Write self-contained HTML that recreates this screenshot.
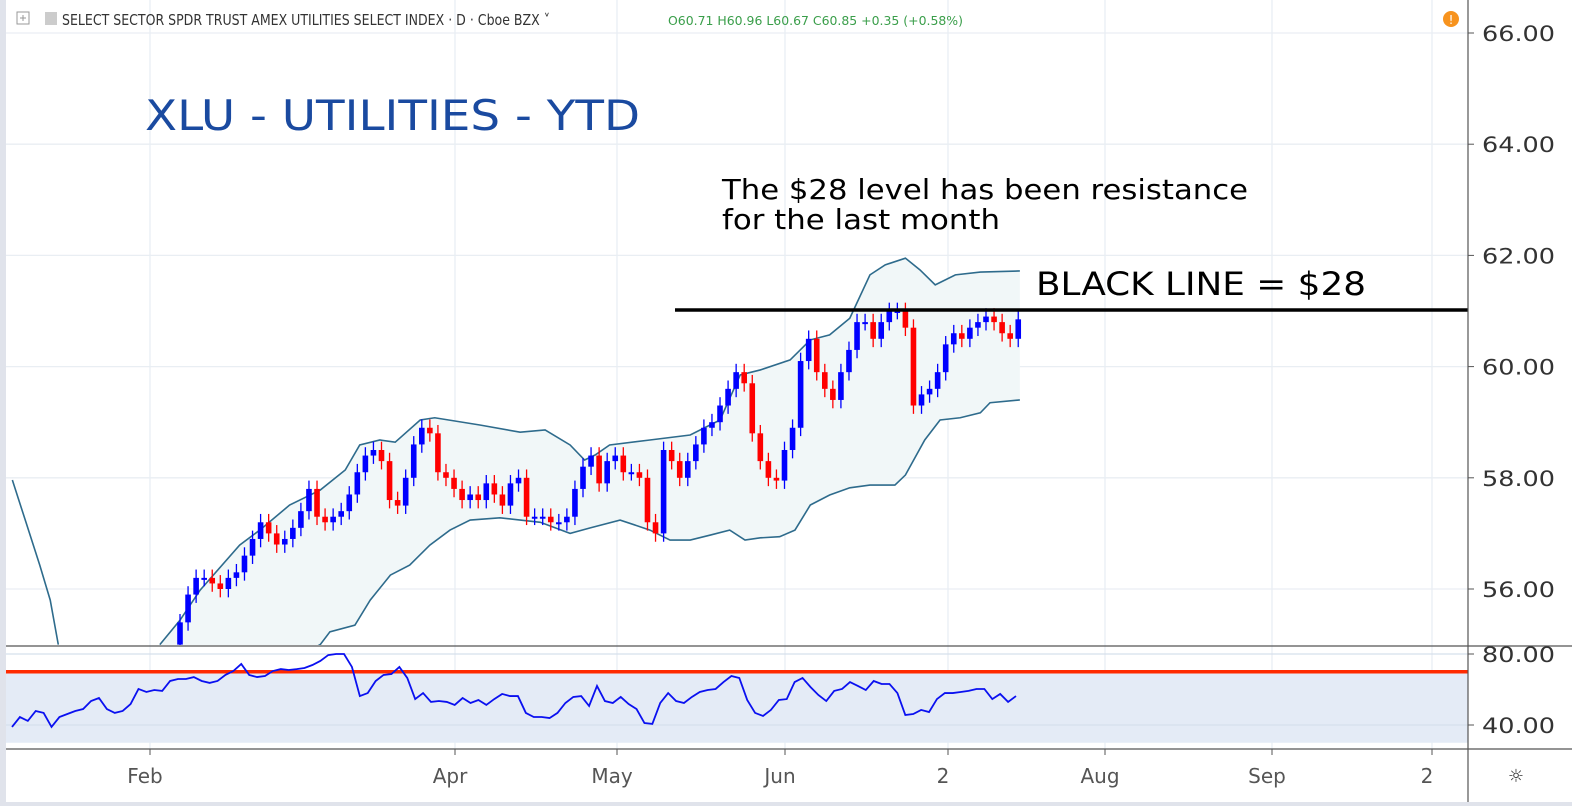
<!DOCTYPE html>
<html><head><meta charset="utf-8"><style>
html,body{margin:0;padding:0;background:#fff;}
body{width:1572px;height:806px;overflow:hidden;font-family:"Liberation Sans",sans-serif;}
svg text{font-family:"DejaVu Sans","Liberation Sans",sans-serif;}
</style></head><body>
<svg id="c" width="1572" height="806" viewBox="0 0 1572 806">
<rect x="0" y="0" width="1572" height="806" fill="#fff"/>
<rect x="0" y="0" width="6" height="806" fill="#e0e3eb"/>
<rect x="0" y="802" width="1572" height="4" fill="#e0e3eb"/>
<g id="grid"></g>
<g id="bands"></g>
<g id="candles"></g>
<line x1="675" y1="310" x2="1468" y2="310" stroke="#000" stroke-width="3.5"/>
<g id="rsi"></g>
<line x1="6" y1="646" x2="1572" y2="646" stroke="#555" stroke-width="1.2"/>
<line x1="6" y1="749" x2="1572" y2="749" stroke="#555" stroke-width="1.2"/>
<line x1="1468" y1="0" x2="1468" y2="802" stroke="#555" stroke-width="1.2"/>
<g id="axes"></g>
<text x="145" y="130" font-size="42" fill="#1a4aa0" textLength="495" lengthAdjust="spacingAndGlyphs">XLU - UTILITIES - YTD</text>
<text x="722" y="199" font-size="28" fill="#000" textLength="526" lengthAdjust="spacingAndGlyphs">The $28 level has been resistance</text>
<text x="722" y="229" font-size="28" fill="#000" textLength="278" lengthAdjust="spacingAndGlyphs">for the last month</text>
<text x="1036" y="295" font-size="32" fill="#000" textLength="330" lengthAdjust="spacingAndGlyphs">BLACK LINE = $28</text>
<g>
<rect x="17" y="12" width="12" height="12" fill="none" stroke="#999"/>
<line x1="20" y1="18" x2="26" y2="18" stroke="#999"/><line x1="23" y1="15" x2="23" y2="21" stroke="#999"/>
<rect x="45" y="12" width="12" height="13" fill="#ccc"/>
<text x="62" y="25" font-size="15" fill="#333" textLength="488" lengthAdjust="spacingAndGlyphs">SELECT SECTOR SPDR TRUST AMEX UTILITIES SELECT INDEX · D · Cboe BZX ˅</text>
<text x="668" y="25" font-size="12" fill="#3a9e4a" textLength="295" lengthAdjust="spacingAndGlyphs">O60.71  H60.96  L60.67  C60.85  +0.35 (+0.58%)</text>
<circle cx="1451" cy="19" r="8" fill="#f7931e"/>
<text x="1451" y="24" font-size="12" fill="#fff" text-anchor="middle">!</text>
</g>
<text x="1516" y="782" font-size="18" fill="#333" text-anchor="middle">☼</text>
</svg>
<script>
const closes=[55.4,55.9,56.2,56.2,56.1,56.0,56.2,56.3,56.6,56.9,57.2,57.0,56.8,56.9,57.1,57.4,57.8,57.3,57.2,57.3,57.4,57.7,58.1,58.4,58.5,58.3,57.6,57.5,58.0,58.6,58.9,58.8,58.1,58.0,57.8,57.6,57.7,57.6,57.9,57.7,57.5,57.9,58.0,57.3,57.3,57.3,57.2,57.2,57.3,57.8,58.2,58.4,57.9,58.3,58.4,58.1,58.1,58.0,57.2,57.0,58.5,58.3,58.0,58.3,58.6,58.9,59.0,59.3,59.6,59.9,59.7,58.8,58.3,58.0,57.95,58.5,58.9,60.1,60.5,59.9,59.6,59.4,59.9,60.3,60.8,60.8,60.5,60.8,61.0,61.0,60.7,59.3,59.5,59.6,59.9,60.4,60.6,60.5,60.7,60.8,60.9,60.8,60.6,60.5,60.85];
const opens=[55.0,55.4,55.9,56.2,56.2,56.1,56.0,56.2,56.3,56.6,56.9,57.2,57.0,56.8,56.9,57.1,57.4,57.8,57.3,57.2,57.3,57.4,57.7,58.1,58.4,58.5,58.3,57.6,57.5,58.0,58.6,58.9,58.8,58.1,58.0,57.8,57.6,57.7,57.6,57.9,57.7,57.5,57.9,58.0,57.3,57.3,57.3,57.2,57.2,57.3,57.8,58.2,58.4,57.9,58.3,58.4,58.1,58.1,58.0,57.2,57.0,58.5,58.3,58.0,58.3,58.6,58.9,59.0,59.3,59.6,59.9,59.7,58.8,58.3,58.0,57.95,58.5,58.9,60.1,60.5,59.9,59.6,59.4,59.9,60.3,60.8,60.8,60.5,60.8,61.0,61.0,60.7,59.3,59.5,59.6,59.9,60.4,60.6,60.5,60.7,60.8,60.9,60.8,60.6,60.5];
const upperIdx=[-2.5,0,2.5,7.4,9.9,13.6,17.4,20.5,22.3,24.8,26.7,29.8,31.6,37.2,42.2,45.3,48.4,50.2,51.5,53.3,58.3,63.3,67,69.5,72,75.7,78.2,80.6,83.1,85.6,87.5,90,91.8,93.7,96.2,99.3,104.2];
const upperVal=[55.0,55.44,55.98,56.79,57.06,57.51,57.78,58.14,58.59,58.68,58.64,59.04,59.08,58.95,58.82,58.86,58.59,58.32,58.41,58.59,58.68,58.77,59.04,59.85,59.94,60.12,60.48,60.57,60.87,61.65,61.83,61.95,61.74,61.47,61.65,61.70,61.72];
const lowerIdx=[-2.5,17.4,18.6,21.7,23.6,26.1,28.5,31,33.5,36,39.7,44.7,48.4,50.9,54.6,58.3,60.8,63.3,65.8,68.2,70.1,72,74.4,76.3,78.2,80.6,83.1,85.6,88.7,90,92.4,94.3,96.8,99.3,100.5,104.2];
const lowerVal=[53.5,55.0,55.23,55.35,55.8,56.25,56.43,56.79,57.06,57.24,57.28,57.2,57.0,57.1,57.24,57.06,56.88,56.88,56.97,57.06,56.88,56.92,56.94,57.06,57.51,57.69,57.82,57.87,57.87,58.05,58.68,59.04,59.08,59.17,59.35,59.4];
const oldBandIdx=[-20.8,-19.2,-17.4,-16.1,-15.1];
const oldBandVal=[57.96,57.24,56.43,55.8,55.0];
const rsiVals=[38.9,44.5,42.3,47.9,46.8,38.9,44.5,46.2,47.9,49.0,53.5,55.2,49.0,46.8,47.9,51.8,60.3,58.6,59.7,59.2,64.8,65.9,65.9,67.0,64.8,63.7,64.8,68.2,70.4,74.4,68.2,67.0,67.6,70.4,71.5,71.0,71.5,72.1,73.8,76.1,79.4,80,80,72.7,56.3,58.0,64.8,68.2,68.7,72.7,66.5,54.6,58.0,53.0,53.5,53.0,51.3,55.2,52.4,54.1,51.3,54.6,57.5,56.3,56.3,46.8,44.5,44.5,43.9,46.8,52.4,55.8,56.3,50.7,62.0,53.5,52.4,55.8,51.8,49.0,41.1,40.6,52.4,58.0,53.5,52.4,55.8,58.6,59.7,60.3,64.2,67.6,66.5,54.1,46.8,45.1,48.5,54.1,54.6,64.2,66.5,61.4,56.9,53.5,59.2,60.3,64.2,62.0,59.7,64.8,63.1,63.1,58.0,45.6,46.2,48.5,47.3,54.6,58.0,58.0,58.6,59.2,60.3,60.3,54.6,57.5,53.0,56.3];
const priceTicks=[66,64,62,60,58,56];
const rsiTicks=[80,40];
const rsiLevel=70, rsiLow=30;
const timeLabels=["Feb","Apr","May","Jun","2","Aug","Sep","2"];
const timeX=[150,455,617,785,948,1105,1272,1432];

const NS="http://www.w3.org/2000/svg";
function mk(t,a,p){const e=document.createElementNS(NS,t);for(const k in a)e.setAttribute(k,a[k]);p.appendChild(e);return e;}
const yP=p=>33+(66-p)*55.6;
const xC=i=>180+i*8.06;
const yR=v=>654+(80-v)*1.775;
const xR=i=>12+i*(1016-12)/(rsiVals.length-1);

const grid=document.getElementById('grid');
priceTicks.forEach(t=>{const l=mk('line',{x1:6,x2:1468,y1:yP(t),y2:yP(t),stroke:'#e9eef3','stroke-width':1.3},grid);

});
timeX.forEach(x=>{const l=mk('line',{x1:x,x2:x,y1:0,y2:749,stroke:'#e9eef3','stroke-width':1.3},grid);

});

const bands=document.getElementById('bands');
const clip=mk('clipPath',{id:'pc'},mk('defs',{},bands));mk('rect',{x:6,y:0,width:1462,height:645},clip);
const bg=mk('g',{'clip-path':'url(#pc)'},bands);
const up=upperIdx.map((d,k)=>[xC(d),yP(upperVal[k])]);
const lo=lowerIdx.map((d,k)=>[xC(d),yP(lowerVal[k])]);
const fillPts=up.concat(lo.slice().reverse()).map(p=>p.join(',')).join(' ');
const fa=mk('polygon',{points:fillPts,fill:'#f1f7f8',stroke:'none'},bg);


const ul=mk('polyline',{points:up.map(p=>p.join(',')).join(' '),fill:'none',stroke:'#2e6b8c','stroke-width':1.6},bg);


const ll=mk('polyline',{points:lo.map(p=>p.join(',')).join(' '),fill:'none',stroke:'#2e6b8c','stroke-width':1.6},bg);


const ol=mk('polyline',{points:oldBandIdx.map((d,k)=>xC(d)+','+yP(oldBandVal[k])).join(' '),fill:'none',stroke:'#2e6b8c','stroke-width':1.6},bg);



const cg=mk('g',{'clip-path':'url(#pc)'},document.getElementById('candles'));
closes.forEach((c,i)=>{const o=opens[i];const col=c>=o?'#0000ff':'#ff0000';
const hi=Math.max(o,c)+0.15,lw=Math.min(o,c)-0.15;const x=xC(i);
const g=mk('g',{},cg);


mk('line',{x1:x,x2:x,y1:yP(hi),y2:yP(lw),stroke:col,'stroke-width':1.3},g);
const top=yP(Math.max(o,c)),h=Math.max(2,yP(Math.min(o,c))-top);
mk('rect',{x:x-2.8,y:top,width:5.6,height:h,fill:col},g);});

const rg=document.getElementById('rsi');
const rf=mk('rect',{x:6,y:yR(rsiLevel),width:1462,height:yR(rsiLow)-yR(rsiLevel),fill:'#e4ebf6'},rg);


rsiTicks.forEach(t=>{const l=mk('line',{x1:6,x2:1468,y1:yR(t),y2:yR(t),stroke:'#d5e0ec','stroke-width':1.2},rg);

});
const rl=mk('line',{x1:6,x2:1468,y1:yR(rsiLevel),y2:yR(rsiLevel),stroke:'#ff2a00','stroke-width':3.5},rg);


const rp=mk('polyline',{points:rsiVals.map((v,i)=>xR(i)+','+yR(v)).join(' '),fill:'none',stroke:'#0a10f0','stroke-width':1.8},rg);



const ax=document.getElementById('axes');
priceTicks.forEach(t=>{const tx=mk('text',{x:1482,y:yP(t)+8,'font-size':21,fill:'#333',textLength:73,lengthAdjust:'spacingAndGlyphs'},ax);tx.textContent=t.toFixed(2);


mk('line',{x1:1468,x2:1474,y1:yP(t),y2:yP(t),stroke:'#555'},ax);});
rsiTicks.forEach(t=>{const tx=mk('text',{x:1482,y:yR(t)+8,'font-size':21,fill:'#333',textLength:73,lengthAdjust:'spacingAndGlyphs'},ax);tx.textContent=t.toFixed(2);


mk('line',{x1:1468,x2:1474,y1:yR(t),y2:yR(t),stroke:'#555'},ax);});
timeLabels.forEach((s,k)=>{const tx=mk('text',{x:timeX[k]-5,y:783,'font-size':20,fill:'#555','text-anchor':'middle'},ax);tx.textContent=s;


mk('line',{x1:timeX[k],x2:timeX[k],y1:749,y2:755,stroke:'#555'},ax);});
</script>
</body></html>
